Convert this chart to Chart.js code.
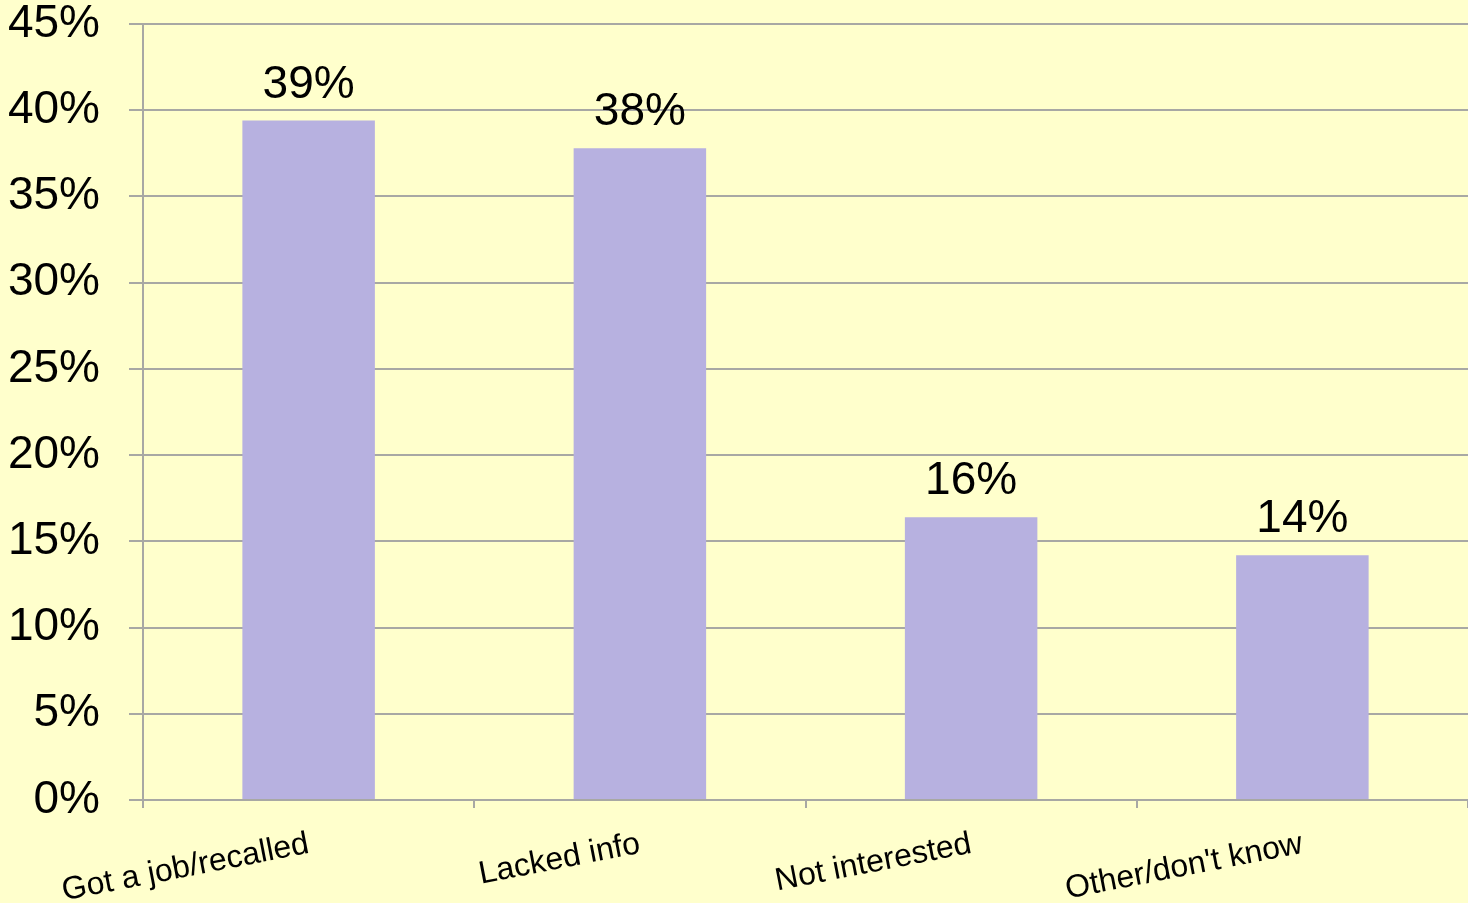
<!DOCTYPE html>
<html>
<head>
<meta charset="utf-8">
<script src="https://cdn.jsdelivr.net/npm/chart.js@4"></script>
<style>
    html, body { margin: 0; padding: 0; background: #ffffcc; }
    #wrap { width: 1468px; height: 903px; }
</style>
</head>
<body>
<div id="wrap"><canvas id="chartRaisons"></canvas></div>
<script>
// Données du graphique
const categories = ['Got a job/recalled', 'Lacked info', 'Not interested', "Other/don't know"];
const pourcentages = [39.4, 37.8, 16.4, 14.2];
const yMax = 45;
const yStep = 5;

// Étiquettes de valeur au-dessus des barres
const etiquettesBarres = {
    id: 'etiquettesBarres',
    afterDatasetsDraw(chart) {
        const ctx = chart.ctx;
        const meta = chart.getDatasetMeta(0);
        ctx.save();
        ctx.font = '46px "Liberation Sans", Arial, sans-serif';
        ctx.fillStyle = '#000000';
        ctx.textAlign = 'center';
        ctx.textBaseline = 'alphabetic';
        meta.data.forEach((bar, index) => {
            const texte = Math.round(pourcentages[index]) + '%';
            ctx.fillText(texte, bar.x, bar.y - 23);
        });
        ctx.restore();
    }
};

const canvas = document.getElementById('chartRaisons');

new Chart(canvas, {
    type: 'bar',
    data: {
        labels: categories,
        datasets: [{
            data: pourcentages,
            backgroundColor: '#b7b1e0',
            borderWidth: 0,
            categoryPercentage: 1,
            barPercentage: 0.4
        }]
    },
    options: {
        responsive: true,
        maintainAspectRatio: false,
        animation: false,
        layout: { padding: { top: 24, left: 0, right: 0, bottom: 0 } },
        plugins: {
            legend: { display: false },
            tooltip: { enabled: false }
        },
        scales: {
            x: {
                offset: true,
                grid: {
                    offset: true,
                    drawOnChartArea: false,
                    drawTicks: true,
                    tickLength: 8,
                    color: '#a8a8a4',
                    lineWidth: 2
                },
                border: { color: '#a8a8a4', width: 2 },
                ticks: {
                    minRotation: 11,
                    maxRotation: 11,
                    padding: 17,
                    color: '#000000',
                    font: { family: '"Liberation Sans", Arial, sans-serif', size: 32 }
                },
                afterFit(scale) {
                    scale.height = 103;
                    scale.paddingLeft = 0;
                    scale.paddingRight = 0;
                }
            },
            y: {
                min: 0,
                max: yMax,
                ticks: {
                    stepSize: yStep,
                    padding: 29,
                    color: '#000000',
                    font: { family: '"Liberation Sans", Arial, sans-serif', size: 46 },
                    callback: value => value + '%'
                },
                grid: {
                    color: '#a8a8a4',
                    lineWidth: 2,
                    tickLength: 14
                },
                border: { color: '#a8a8a4', width: 2 },
                afterFit(scale) {
                    scale.width = 143;
                    scale.paddingTop = 0;
                    scale.paddingBottom = 0;
                }
            }
        }
    },
    plugins: [etiquettesBarres]
});
</script>
</body>
</html>
